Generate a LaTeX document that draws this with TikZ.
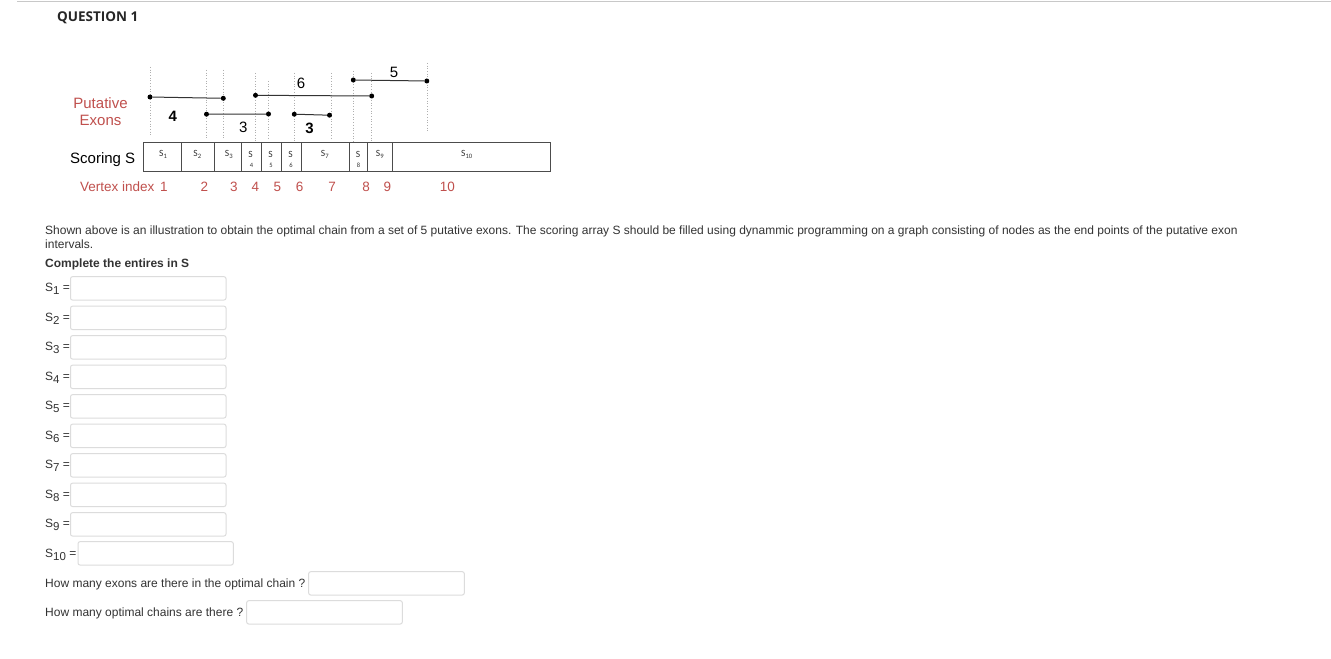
\documentclass[tikz,border=0pt]{standalone}
\usepackage{fontspec}
\setmainfont{Liberation Sans}
\newfontfamily\qfont{Open Sans}
\newfontfamily\cfont{Carlito}
\definecolor{lblred}{RGB}{192,80,77}
\definecolor{txt}{RGB}{51,51,51}
\definecolor{boxgray}{RGB}{220,220,220}
\definecolor{dotgray}{RGB}{175,175,175}
\definecolor{rulegray}{RGB}{200,200,200}
\newcommand\fs[1]{\fontsize{#1bp}{#1bp}\selectfont}
\newcommand\slbl[1]{S\raisebox{-3bp}{\fs{11.5}#1} =}
\tikzset{
  txtnode/.style={inner sep=0, anchor=base west, text=txt, font=\fs{12}},
  redlbl/.style={inner sep=0, anchor=base, text=lblred, font=\fs{13.5}},
  exdot/.style={circle, fill=black, inner sep=0, minimum size=5bp},
  exline/.style={draw=black!80, line width=1bp},
  vdot/.style={draw=dotgray, dotted, line width=0.7bp},
  inbox/.style={draw=boxgray, line width=1bp, rounded corners=2bp},
  cellS/.style={inner sep=0, font=\cfont\fs{9.5}, text=black!80},
  cellN/.style={inner sep=0, font=\cfont\fs{6.5}, text=black!80},
  exlbl/.style={inner sep=0, anchor=base, font=\fs{15}},
  tabline/.style={draw=black!70, line width=1bp}
}
\begin{document}
\begin{tikzpicture}[x=1bp,y=-1bp]
\useasboundingbox (0,0) rectangle (1331,659);
\fill[white] (0,0) rectangle (1331,659);
% top rule
\coordinate (ruleL) at (17,1.5);
\coordinate (ruleR) at (1331,1.5);
\draw[rulegray, line width=1bp] (ruleL) -- (ruleR);
\node[inner sep=0, anchor=base west, font=\qfont\bfseries\fs{13.5}, text=black!85] (qtitle) at (57,21.5) {QUESTION 1};

% left labels
\node[inner sep=0, anchor=base, text=lblred, font=\fs{15}] (put1) at (100.5,109) {Putative};
\node[inner sep=0, anchor=base, text=lblred, font=\fs{15}] (put2) at (100.5,125.5) {Exons};
\node[inner sep=0, anchor=base west, text=black, font=\fs{15}] (scoring) at (70,163) {Scoring S};
\node[inner sep=0, anchor=base west, text=lblred, font=\fs{13.5}] (vindex) at (80,191.5) {Vertex index};

% vertical dotted guide lines
\foreach \n/\x/\ya/\yb in {v1/150/67/136, v2/206.5/70/138, v3/223.3/70/138, v4/255.5/73/142, v5/268.5/81/138, v6/294.3/73/142, v7/331.8/73/140, v8/353.3/71/142, v9/371.7/73/142, v10/427.3/63/132}{
  \coordinate (\n a) at (\x,\ya);
  \coordinate (\n b) at (\x,\yb);
  \draw[vdot] (\n a) -- (\n b);
}

% exons
\node[exdot] (e1a) at (150,97) {};
\node[exdot] (e1b) at (223.3,98.3) {};
\node[exdot] (e2a) at (206.5,114.2) {};
\node[exdot] (e2b) at (268.5,114) {};
\node[exdot] (e3a) at (255.5,95.3) {};
\node[exdot] (e3b) at (371.7,96) {};
\node[exdot] (e4a) at (294.3,114.2) {};
\node[exdot] (e4b) at (329.5,115.2) {};
\node[exdot] (e5a) at (353.3,80) {};
\node[exdot] (e5b) at (426.8,81) {};
\draw[exline] (e1a) -- (e1b);
\draw[exline] (e2a) -- (e2b);
\draw[exline] (e3a) -- (e3b);
\draw[exline] (e4a) -- (e4b);
\draw[exline] (e5a) -- (e5b);
\node[exlbl, font=\bfseries\fs{15}] (w1) at (172.7,122) {4};
\node[exlbl] (w2) at (243.3,133) {3};
\node[exlbl] (w3) at (301,88.5) {6};
\node[exlbl, font=\bfseries\fs{15}] (w4) at (309.5,133.5) {3};
\node[exlbl] (w5) at (394,77.5) {5};

% scoring table
\coordinate (tl) at (143.5,142);
\coordinate (br) at (550.5,171);
\draw[tabline] (tl) rectangle (br);
\foreach \n/\x in {d1/181.7, d2/214.5, d3/241.7, d4/261.7, d5/281.2, d6/301.7, d7/349.3, d8/367.3, d9/392.7}{
  \coordinate (\n t) at (\x,142);
  \coordinate (\n b) at (\x,171);
  \draw[tabline] (\n t) -- (\n b);
}
\node[cellS] (c1) at (163.3,154.5) {S\textsubscript{1}};
\node[cellS] (c2) at (197.5,154.5) {S\textsubscript{2}};
\node[cellS] (c3) at (229,154.5) {S\textsubscript{3}};
\node[cellS] (c4) at (250.5,154) {S};
\node[cellN] (c4n) at (251.5,165) {4};
\node[cellS] (c5) at (270.5,154) {S};
\node[cellN] (c5n) at (271,165) {5};
\node[cellS] (c6) at (290.5,154) {S};
\node[cellN] (c6n) at (291,165) {6};
\node[cellS] (c7) at (325,154.5) {S\textsubscript{7}};
\node[cellS] (c8) at (358,154) {S};
\node[cellN] (c8n) at (358.5,165) {8};
\node[cellS] (c9) at (380,154.5) {S\textsubscript{9}};
\node[cellS] (c10) at (467,154.5) {S\textsubscript{10}};

% vertex indices
\foreach \n/\x/\t in {i1/164/1, i2/204.3/2, i3/234/3, i4/255.5/4, i5/277.3/5, i6/299.5/6, i7/332/7, i8/366/8, i9/387.3/9, i10/447.3/10}{
  \node[redlbl] (\n) at (\x,191.5) {\t};
}

% text
\node[txtnode] (p1) at (45,234) {Shown above is an illustration to obtain the optimal chain from a set of 5 putative exons. The scoring array S should be filled using dynammic programming on a graph consisting of nodes as the end points of the putative exon};
\node[txtnode] (p2) at (45,248) {intervals.};
\node[txtnode, font=\bfseries\fs{12}] (p3) at (45,267.5) {Complete the entires in S};

% answer rows
\foreach \k/\y in {1/288, 2/317.5, 3/347, 4/376.5, 5/406, 6/435.5, 7/465, 8/494.5, 9/524}{
  \node[txtnode] (s\k) at (45,\y+3.5) {\slbl{\k}};
  \draw[inbox] (70.5,\y-11.3) rectangle (226,\y+12);
}
\node[txtnode] (s10) at (45,557) {\slbl{10}};
\draw[inbox] (78,541.7) rectangle (233.3,565);
\node[txtnode] (q1) at (45,587.5) {How many exons are there in the optimal chain ?};
\draw[inbox] (308.7,571.7) rectangle (464.3,595);
\node[txtnode] (q2) at (45,616) {How many optimal chains are there ?};
\draw[inbox] (246.7,600.7) rectangle (402.3,624);
\end{tikzpicture}
\end{document}
